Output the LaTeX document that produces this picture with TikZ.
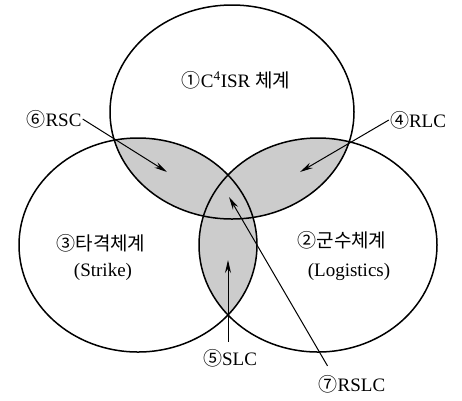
\documentclass[tikz,border=0pt]{standalone}
\usepackage{fontspec}
\setmainfont{Liberation Serif}
\newfontfamily\kofont{Noto Sans CJK KR}
\usetikzlibrary{arrows.meta, calc}

\newcommand{\ko}[1]{{\kofont\fontsize{19}{22}\selectfont #1}}

\begin{document}
\begin{tikzpicture}[x=1pt, y=-1pt,
    lbl/.style={font=\fontsize{19}{22}\selectfont, inner sep=1pt},
    lens/.style={fill=gray!40},
    setline/.style={line width=1.5pt},
    pointer/.style={line width=1pt, -{Stealth[length=13pt, width=6pt]}}]
    \useasboundingbox (0,0) rectangle (462,400);

    % Centres of the three systems
    \coordinate (ctop) at (232,112);
    \coordinate (cleft) at (138,245);
    \coordinate (cright) at (318,245);

    % Shaded overlaps
    \begin{scope}
        \clip (ctop) ellipse [x radius=122pt, y radius=107pt];
        \fill[lens] (cleft) ellipse [x radius=119pt, y radius=107pt];
        \fill[lens] (cright) ellipse [x radius=119pt, y radius=107pt];
    \end{scope}
    \begin{scope}
        \clip (cleft) ellipse [x radius=119pt, y radius=107pt];
        \fill[lens] (cright) ellipse [x radius=119pt, y radius=107pt];
    \end{scope}

    % Outlines
    \draw[setline] (ctop) ellipse [x radius=122pt, y radius=107pt];
    \draw[setline] (cleft) ellipse [x radius=119pt, y radius=107pt];
    \draw[setline] (cright) ellipse [x radius=119pt, y radius=107pt];

    % System names
    \node[lbl] (c4isr) at (236,80) {\ko{①}C\textsuperscript{4}ISR \ko{체계}};
    \node[lbl] (strike) at (101,243) {\ko{③타격체계}};
    \node[lbl] (strikeen) at (103,272) {(Strike)};
    \node[lbl] (logis) at (342,240) {\ko{②군수체계}};
    \node[lbl] (logisen) at (349,272) {(Logistics)};

    % Overlap labels
    \node[lbl] (rsc) at (54,119) {\ko{⑥}RSC};
    \node[lbl] (rlc) at (418,120) {\ko{④}RLC};
    \node[lbl] (slc) at (230,358) {\ko{⑤}SLC};
    \node[lbl] (rslc) at (352,384) {\ko{⑦}RSLC};

    % Arrow tips inside the overlaps
    \coordinate (rsctip) at (167,172);
    \coordinate (rlctip) at (300,172);
    \coordinate (slctip) at (228,260);
    \coordinate (rslctip) at (229,197);

    \draw[pointer] (rsc.east) -- (rsctip);
    \draw[pointer] (rlc.west) -- (rlctip);
    \draw[pointer] ($(slc.north)+(-2,-6)$) -- (slctip);
    \draw[pointer] ($(rslc.north west)+(10,-8)$) -- (rslctip);
\end{tikzpicture}
\end{document}
